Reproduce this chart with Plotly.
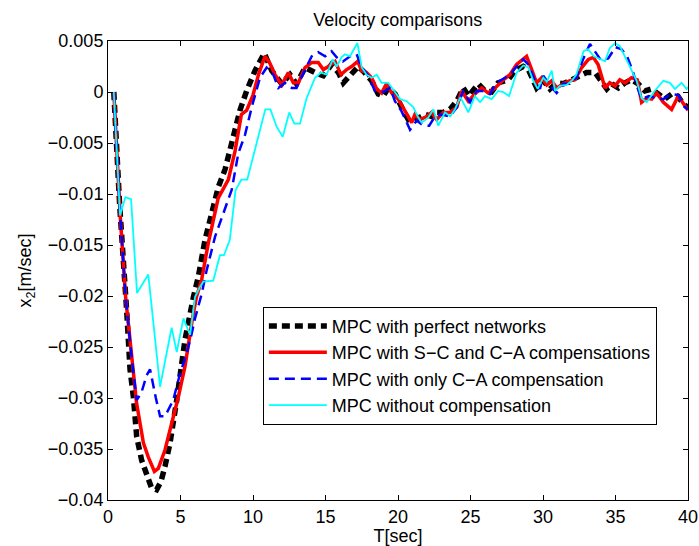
import plotly.graph_objects as go

# Time stamps [sec] and velocities x2 [m/sec] for each controller
t_perfect = [0.4, 0.8, 1.29, 1.52, 1.75, 1.98, 2.32, 2.66, 3.0, 3.35, 3.65, 3.93, 4.28, 4.74,
             5.31, 5.89, 6.23, 6.69, 7.15, 7.61, 8.07, 8.41, 8.76, 9.1, 9.56, 10.14, 10.78,
             11.29, 11.98, 12.55, 13.0, 13.59, 14.28, 14.85, 15.42, 15.89, 16.23, 16.69,
             17.26, 17.7, 18.18, 18.64, 18.99, 19.33, 19.8, 20.25, 20.71, 21.06, 21.52,
             21.86, 22.32, 22.67, 23.12, 23.59, 24.05, 24.5, 24.85, 25.54, 26.0, 26.45,
             26.9, 27.6, 28.07, 28.64, 28.99, 29.56, 30.02, 30.48, 30.94, 31.4, 31.98,
             32.55, 33.0, 33.6, 34.05, 34.4, 34.74, 35.2, 35.66, 36.1, 36.57, 37.03, 37.5,
             37.95, 38.4, 38.87, 39.3, 39.68, 40.0]
v_perfect = [0.0, -0.011, -0.0215, -0.0272, -0.0299, -0.0338, -0.0361, -0.0375, -0.0388,
             -0.039, -0.0382, -0.0367, -0.0344, -0.0302, -0.0243, -0.0201, -0.0181, -0.0145,
             -0.0119, -0.0093, -0.0076, -0.0057, -0.0037, -0.0018, 0.0001, 0.0021, 0.0038,
             0.0021, 0.0008, 0.0017, 0.0008, 0.0024, 0.0019, 0.0016, 0.0027, 0.0019, 0.0009,
             0.0017, 0.0025, 0.0019, 0.0011, -0.0002, -0.0004, 0.0004, -0.0002, -0.0015,
             -0.0027, -0.0028, -0.0024, -0.0022, -0.0024, -0.002, -0.002, -0.0017, -0.0009,
             0.0004, -0.0004, 0.0008, 0.0001, 0.0, 0.0009, 0.0012, 0.0021, 0.0025, 0.0022,
             0.0004, 0.0011, 0.0003, 0.0009, 0.0008, 0.0012, 0.0016, 0.0019, 0.0019, 0.0009,
             0.0003, 0.0008, 0.0004, 0.0009, 0.0012, 0.0008, 0.0001, 0.0003, -0.0002,
             -0.0007, -0.0002, -0.0004, -0.0012, -0.0015]

t_sc_ca = [0.4, 0.83, 1.22, 1.63, 1.97, 2.44, 2.78, 3.2, 3.47, 3.93, 4.39, 4.85, 5.31, 5.5,
           5.85, 6.1, 6.46, 6.92, 7.6, 8.3, 8.76, 9.2, 9.56, 10.0, 10.4, 10.83, 11.17, 11.52,
           11.98, 12.44, 12.78, 13.13, 13.59, 14.05, 14.5, 14.85, 15.2, 15.66, 16.07, 16.46,
           16.8, 17.22, 17.49, 17.84, 18.18, 18.53, 18.87, 19.2, 19.56, 20.02, 20.48, 20.94,
           21.17, 21.52, 21.98, 22.32, 22.67, 23.12, 23.59, 24.05, 24.39, 24.85, 25.3, 25.77,
           26.23, 26.7, 27.27, 27.72, 28.18, 28.87, 29.22, 29.56, 29.91, 30.26, 30.6, 30.94,
           31.4, 31.86, 32.2, 32.67, 33.13, 33.47, 33.8, 34.28, 34.6, 34.97, 35.3, 35.66,
           36.1, 36.5, 36.8, 37.15, 37.5, 37.84, 38.3, 38.87, 39.33, 39.8, 40.0]
v_sc_ca = [0.0, -0.0119, -0.0202, -0.026, -0.0305, -0.0344, -0.0358, -0.0372, -0.0369,
           -0.0351, -0.0325, -0.0299, -0.0269, -0.025, -0.022, -0.0201, -0.0184, -0.0148,
           -0.0104, -0.0086, -0.0058, -0.0022, -0.0018, -0.0003, 0.0018, 0.0035, 0.0028,
           0.0017, 0.0007, 0.0019, 0.0009, 0.0009, 0.0024, 0.0029, 0.0029, 0.0022, 0.0025,
           0.003, 0.0017, 0.0022, 0.0025, 0.003, 0.0021, 0.0019, 0.0014, 0.0003, -0.0001,
           0.0008, -0.0001, -0.0007, -0.0019, -0.003, -0.0022, -0.0027, -0.0024, -0.002,
           -0.0027, -0.002, -0.002, -0.0015, 0.0001, -0.0009, -0.0002, 0.0004, -0.0001,
           0.0004, 0.0012, 0.0017, 0.0027, 0.0035, 0.0022, 0.0009, 0.0014, 0.0007, 0.0011,
           0.0004, 0.0008, 0.0011, 0.0012, 0.0024, 0.0032, 0.0034, 0.0027, 0.0004, 0.0009,
           0.0006, 0.0012, 0.0009, 0.0014, 0.0012, -0.001, -0.0006, -0.0007, -0.0001, -0.001,
           -0.0017, -0.0004, -0.0014, -0.0018]

t_ca_only = [0.4, 0.83, 1.22, 1.63, 1.98, 2.3, 2.66, 2.9, 3.3, 3.59, 3.93, 4.5, 4.97, 5.43,
             5.77, 6.0, 6.46, 6.8, 7.38, 7.95, 8.53, 8.99, 9.45, 9.91, 10.48, 10.94, 11.4,
             11.75, 12.2, 12.67, 13.0, 13.59, 14.05, 14.5, 14.97, 15.42, 15.77, 16.2, 16.69,
             17.15, 17.49, 17.9, 18.41, 18.99, 19.45, 19.79, 20.25, 20.83, 21.29, 21.75,
             22.15, 22.55, 23.01, 23.59, 24.05, 24.5, 24.97, 25.43, 25.9, 26.34, 26.8, 27.38,
             27.84, 28.18, 28.64, 28.99, 29.45, 29.79, 30.02, 30.5, 30.94, 31.4, 31.85, 32.3,
             32.76, 33.24, 33.59, 34.0, 34.5, 35.0, 35.4, 35.8, 36.2, 36.5, 36.8, 37.3, 37.8,
             38.3, 38.8, 39.33, 39.8, 40.0]
v_ca_only = [0.0, -0.0119, -0.0202, -0.026, -0.0302, -0.0295, -0.0278, -0.0272, -0.030,
             -0.0318, -0.0318, -0.0302, -0.0276, -0.0256, -0.0237, -0.0222, -0.0198, -0.0175,
             -0.0142, -0.0119, -0.0096, -0.006, -0.0042, -0.0015, 0.0014, 0.0024, 0.0017,
             0.0004, 0.0009, 0.0004, 0.0004, 0.0022, 0.0035, 0.0039, 0.0035, 0.004, 0.0034,
             0.003, 0.0035, 0.0037, 0.0024, 0.0017, 0.0001, 0.0, 0.0004, -0.0009, -0.0019,
             -0.0037, -0.0028, -0.0033, -0.0033, -0.0024, -0.0022, -0.0024, -0.0015, 0.0001,
             -0.001, 0.0001, 0.0001, -0.0002, 0.0009, 0.0014, 0.0019, 0.0025, 0.0032, 0.0027,
             0.0011, 0.0003, 0.0016, 0.0006, -0.0001, 0.0008, 0.0008, 0.0014, 0.0032, 0.0047,
             0.0039, 0.0031, 0.0033, 0.0044, 0.0042, 0.0035, 0.002, 0.0005, -0.0007, -0.0004,
             -0.0006, -0.0007, -0.0002, -0.0003, -0.0015, -0.0017]

t_none = [0.4, 0.83, 1.2, 1.59, 2.0, 2.78, 3.59, 4.39, 4.74, 5.2, 5.66, 6.0, 6.34, 6.57,
          7.26, 7.72, 8.0, 8.4, 8.8, 9.2, 9.6, 10.2, 10.85, 11.2, 11.63, 12.05, 12.5, 12.85,
          13.24, 13.7, 14.28, 14.69, 15.08, 15.3, 15.5, 15.77, 16.1, 16.34, 16.69, 17.2,
          17.5, 17.83, 18.18, 18.53, 18.87, 19.33, 19.8, 20.14, 20.6, 21.06, 21.36, 21.63,
          22.1, 22.44, 22.78, 23.24, 23.6, 23.93, 24.3, 24.85, 25.3, 25.66, 26.0, 26.46,
          26.9, 27.25, 27.66, 28.18, 28.64, 28.99, 29.33, 29.63, 30.02, 30.26, 30.6, 30.83,
          31.17, 31.63, 31.98, 32.3, 32.8, 33.1, 33.5, 33.93, 34.28, 34.6, 34.97, 35.3,
          35.66, 36.1, 36.46, 36.8, 37.15, 37.7, 38.3, 38.75, 39.1, 39.56, 39.9, 40.0]
v_none = [0.0, -0.0121, -0.0103, -0.0105, -0.0197, -0.0179, -0.0289, -0.0231, -0.0255,
          -0.0222, -0.0238, -0.0201, -0.0191, -0.0186, -0.0185, -0.016, -0.016, -0.0145,
          -0.0096, -0.0086, -0.0086, -0.0052, -0.0017, -0.0017, -0.0034, -0.0044, -0.002,
          -0.0031, -0.0031, -0.0006, 0.0014, 0.0019, 0.0017, 0.0025, 0.0032, 0.0025, 0.0034,
          0.0037, 0.0035, 0.0048, 0.0024, 0.0017, 0.0014, 0.0017, 0.0009, 0.0009, -0.0001,
          -0.0007, -0.0009, -0.0015, -0.0024, -0.003, -0.0025, -0.0017, -0.0033, -0.002,
          -0.0024, -0.0017, -0.0005, -0.002, -0.0004, -0.001, -0.0004, -0.0007, 0.0001, 0.0,
          -0.0004, 0.0019, 0.0026, 0.0024, 0.0011, 0.0003, 0.0014, 0.001, 0.0021, 0.0001,
          0.0006, 0.0007, 0.0011, 0.0017, 0.004, 0.0042, 0.0035, 0.0032, 0.003, 0.0043,
          0.0048, 0.0045, 0.0034, 0.0021, 0.0011, -0.0006, -0.001, 0.0001, 0.0011, 0.0009,
          0.0003, 0.0009, 0.0003, 0.0005]

y_ticks = [-0.04, -0.035, -0.03, -0.025, -0.02, -0.015, -0.01, -0.005, 0.0, 0.005]
y_tick_labels = ["\u22120.04", "\u22120.035", "\u22120.03", "\u22120.025", "\u22120.02",
                 "\u22120.015", "\u22120.01", "\u22120.005", "0", "0.005"]
x_ticks = [0, 5, 10, 15, 20, 25, 30, 35, 40]

FONT = "Liberation Sans, Arial, Helvetica, sans-serif"
FSIZE = 18

fig = go.Figure()
fig.add_trace(go.Scatter(x=t_perfect, y=v_perfect, mode="lines",
                         name="MPC with perfect networks",
                         line=dict(color="#000000", width=5.5, dash="8px,5px")))
fig.add_trace(go.Scatter(x=t_sc_ca, y=v_sc_ca, mode="lines",
                         name="MPC with S\u2212C and C\u2212A compensations",
                         line=dict(color="#ff0000", width=3.5)))
fig.add_trace(go.Scatter(x=t_ca_only, y=v_ca_only, mode="lines",
                         name="MPC with only C\u2212A compensation",
                         line=dict(color="#0000ff", width=2.5, dash="10px,6px")))
fig.add_trace(go.Scatter(x=t_none, y=v_none, mode="lines",
                         name="MPC without compensation",
                         line=dict(color="#00ffff", width=1.8)))

axis_common = dict(showline=True, linecolor="black", linewidth=1, mirror="allticks",
                   ticks="inside", ticklen=5, tickcolor="black", showgrid=False,
                   zeroline=False, tickfont=dict(family=FONT, size=FSIZE, color="black"))

fig.update_xaxes(range=[0, 40], tickvals=x_ticks,
                 title=dict(text="T[sec]", font=dict(family=FONT, size=FSIZE, color="black"),
                            standoff=7),
                 **axis_common)
fig.update_yaxes(range=[-0.04, 0.005], tickvals=y_ticks, ticktext=y_tick_labels,
                 title=dict(text="x<sub>2</sub>[m/sec]",
                            font=dict(family=FONT, size=FSIZE, color="black"), standoff=11),
                 **axis_common)

fig.update_layout(
    width=699, height=546,
    margin=dict(l=108, r=11, t=41, b=46, autoexpand=False),
    paper_bgcolor="white", plot_bgcolor="white",
    title=dict(text="Velocity comparisons", x=0.569, xanchor="center",
               y=1 - 20 / 546, yanchor="middle",
               font=dict(family=FONT, size=FSIZE, color="black")),
    legend=dict(x=0.267, y=0.421, xanchor="left", yanchor="top",
                bgcolor="white", bordercolor="black", borderwidth=1,
                font=dict(family=FONT, size=FSIZE, color="black"),
                itemwidth=58, tracegroupgap=0),
    showlegend=True,
)

fig.write_html("out.html")
